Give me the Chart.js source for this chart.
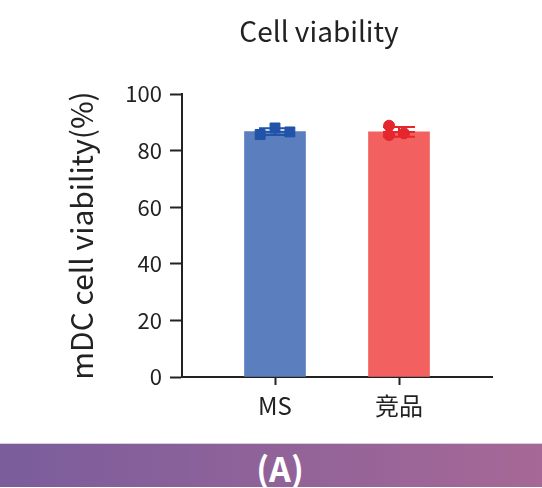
<!DOCTYPE html>
<html>
<head>
<meta charset="utf-8">
<script src="https://cdn.jsdelivr.net/npm/chart.js@4.4.1/dist/chart.umd.min.js"></script>
<style>
  html, body { margin: 0; padding: 0; background: #fff; overflow: hidden; }
  #wrap { width: 542px; height: 443px; overflow: hidden; position: relative; }
  #banner {
    width: 542px; height: 44px;
    border-top: 1px solid #d6cde0;
    background: linear-gradient(90deg, #7a5d9c, #a66896);
    color: #fff;
    font: bold 34px "Noto Sans CJK SC", "Noto Sans", sans-serif;
    display: flex; align-items: center; justify-content: center;
    padding-left: 18px; padding-top: 4px; box-sizing: border-box;
    line-height: 40px;
  }
</style>
</head>
<body>
<div id="wrap"><canvas id="chart" width="638" height="443"></canvas></div>
<div id="banner">(A)</div>

<script>
// =============================
// DATA
// =============================
const categories = ["MS", "竞品"];
const barValues = [86.7, 86.6];
const sdValues = [1.2, 1.7];

// replicate points per group (value + small horizontal jitter in category units)
const msPoints = [85.7, 88.0, 86.6];
const msJitter = [-0.12, 0, 0.12];
const jpPoints = [88.8, 85.5, 86.1];
const jpJitter = [-0.08, -0.08, 0.04];

const yTicks = [0, 20, 40, 60, 80, 100];

const FONT = "'Noto Sans CJK SC', 'Noto Sans', sans-serif";
const AXIS = "#222222";

const barColors = ["#5b7fbe", "#f26060"];
const dotColors = ["#2153a8", "#e5262d"];

// =============================
// ERROR BAR PLUGIN
// =============================
const errorBars = {
  id: "errorBars",
  afterDatasetDraw(chart, args) {
    if (args.index !== 0) return;
    const { ctx, scales: { x, y } } = chart;
    ctx.save();
    ctx.lineWidth = 2;
    barValues.forEach((v, i) => {
      const px = x.getPixelForValue(i + 1);
      const top = y.getPixelForValue(v + sdValues[i]);
      const bot = y.getPixelForValue(v - sdValues[i]);
      const mid = y.getPixelForValue(v);
      ctx.strokeStyle = dotColors[i];
      ctx.beginPath();
      ctx.moveTo(px, top); ctx.lineTo(px, bot);
      ctx.moveTo(px - 16, top); ctx.lineTo(px + 16, top);
      ctx.moveTo(px - 16, bot); ctx.lineTo(px + 16, bot);
      ctx.moveTo(px - 16, mid); ctx.lineTo(px + 16, mid);
      ctx.stroke();
    });
    ctx.restore();
  }
};

// =============================
// CHART
// =============================
const ctx = document.getElementById("chart").getContext("2d");

new Chart(ctx, {
  data: {
    datasets: [
      {
        type: "bar",
        data: barValues.map((v, i) => ({ x: i + 1, y: v })),
        backgroundColor: barColors,
        barThickness: 61,
        order: 2
      },
      {
        type: "scatter",
        data: msPoints.map((v, i) => ({ x: 1 + msJitter[i], y: v })),
        pointStyle: "rect",
        pointRadius: 7,
        backgroundColor: dotColors[0],
        borderColor: dotColors[0],
        order: 1
      },
      {
        type: "scatter",
        data: jpPoints.map((v, i) => ({ x: 2 + jpJitter[i], y: v })),
        pointStyle: "circle",
        pointRadius: 5.5,
        backgroundColor: dotColors[1],
        borderColor: dotColors[1],
        order: 1
      }
    ]
  },
  options: {
    responsive: false,
    animation: false,
    devicePixelRatio: 1,
    layout: { padding: 0 },
    plugins: {
      legend: { display: false },
      tooltip: { enabled: false },
      title: {
        display: true,
        text: "Cell viability",
        color: AXIS,
        font: { family: FONT, size: 28, weight: "normal", lineHeight: 1.2 },
        padding: { top: 15, bottom: 45.4 }
      }
    },
    scales: {
      x: {
        type: "linear",
        offset: false,
        min: 0.25,
        max: 2.75,
        afterFit: s => { s.height = 66; },
        afterBuildTicks: s => { s.ticks = categories.map((c, i) => ({ value: i + 1 })); },
        ticks: {
          color: AXIS,
          padding: 6,
          font: { family: FONT, size: 24 },
          callback: v => categories[v - 1]
        },
        grid: {
          offset: false,
          drawOnChartArea: false,
          tickLength: 8,
          tickWidth: 2,
          tickColor: AXIS
        },
        border: { display: true, color: AXIS, width: 2 }
      },
      y: {
        min: 0,
        max: 100,
        afterFit: s => { s.width = 182; },
        afterBuildTicks: s => { s.ticks = yTicks.map(v => ({ value: v })); },
        ticks: {
          color: AXIS,
          padding: 8,
          font: { family: FONT, size: 22 }
        },
        grid: {
          drawOnChartArea: false,
          tickLength: 12,
          tickWidth: 2,
          tickColor: AXIS
        },
        border: { display: true, color: AXIS, width: 2 },
        title: {
          display: true,
          text: "mDC cell viability(%)",
          color: AXIS,
          font: { family: FONT, size: 30, lineHeight: 1.2 },
          padding: { top: 64, bottom: 0 }
        }
      },
      // empty right-hand box, keeps the plot narrower than the title band
      spacer: {
        type: "linear",
        position: "right",
        afterFit: s => { s.width = 146; },
        ticks: { display: false },
        grid: { display: false },
        border: { display: false }
      }
    }
  },
  plugins: [errorBars]
});
</script>
</body>
</html>
